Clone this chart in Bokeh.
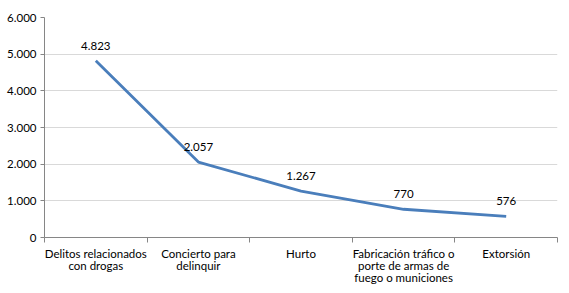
from bokeh.plotting import figure
from bokeh.models import FixedTicker, ColumnDataSource, Range1d
from bokeh.core.properties import value
from bokeh.embed import file_html
from bokeh.resources import INLINE

categories = ["Delitos relacionados\ncon drogas", "Concierto para\ndelinquir", "Hurto",
              "Fabricación tráfico o\nporte de armas de\nfuego o municiones", "Extorsión"]
values = [4823, 2057, 1267, 770, 576]
value_labels = ["4.823", "2.057", "1.267", "770", "576"]
y_ticks = [0, 1000, 2000, 3000, 4000, 5000, 6000]
y_tick_labels = ["0", "1.000", "2.000", "3.000", "4.000", "5.000", "6.000"]

FONT = "Lato"
xs = [i + 0.5 for i in range(len(categories))]

p = figure(frame_width=513, frame_height=220, output_backend="svg", toolbar_location=None,
           x_range=Range1d(0, len(categories)), y_range=Range1d(0, 6000))
p.min_border_left = 44
p.min_border_right = 12
p.min_border_top = 17
p.min_border_bottom = 56
p.outline_line_color = None
p.background_fill_color = "white"
p.border_fill_color = "white"

src = ColumnDataSource(dict(x=xs, y=values, lab=value_labels))
p.line("x", "y", source=src, line_color="#4a7ebb", line_width=2.8)
p.text("x", "y", text="lab", source=src, y_offset=-15, text_align="center",
       text_baseline="middle", text_font=value(FONT), text_font_size="11.5px",
       text_color="black")

# x axis
xa = p.xaxis[0]
xa.ticker = FixedTicker(ticks=xs, minor_ticks=list(range(len(categories) + 1)))
xa.major_label_overrides = {x: c for x, c in zip(xs, categories)}
xa.major_tick_line_color = None
xa.minor_tick_out = 5
xa.minor_tick_in = 0
xa.minor_tick_line_color = "#868686"
xa.axis_line_color = "#868686"
xa.major_label_text_font = FONT
xa.major_label_text_font_size = "11.5px"
xa.major_label_text_line_height = 0.95
xa.major_label_text_color = "black"
xa.major_label_standoff = 3

# y axis
ya = p.yaxis[0]
ya.ticker = FixedTicker(ticks=y_ticks, minor_ticks=[])
ya.major_label_overrides = {t: l for t, l in zip(y_ticks, y_tick_labels)}
ya.major_tick_out = 4
ya.major_tick_in = 0
ya.major_tick_line_color = "#868686"
ya.minor_tick_line_color = None
ya.axis_line_color = "#868686"
ya.major_label_text_font = FONT
ya.major_label_text_font_size = "11.5px"
ya.major_label_text_color = "black"
ya.major_label_standoff = 4

p.xgrid.grid_line_color = None
p.ygrid.grid_line_color = "#d9d9d9"
p.ygrid.ticker = FixedTicker(ticks=y_ticks[1:])

open("out.html", "w").write(file_html(p, INLINE))
